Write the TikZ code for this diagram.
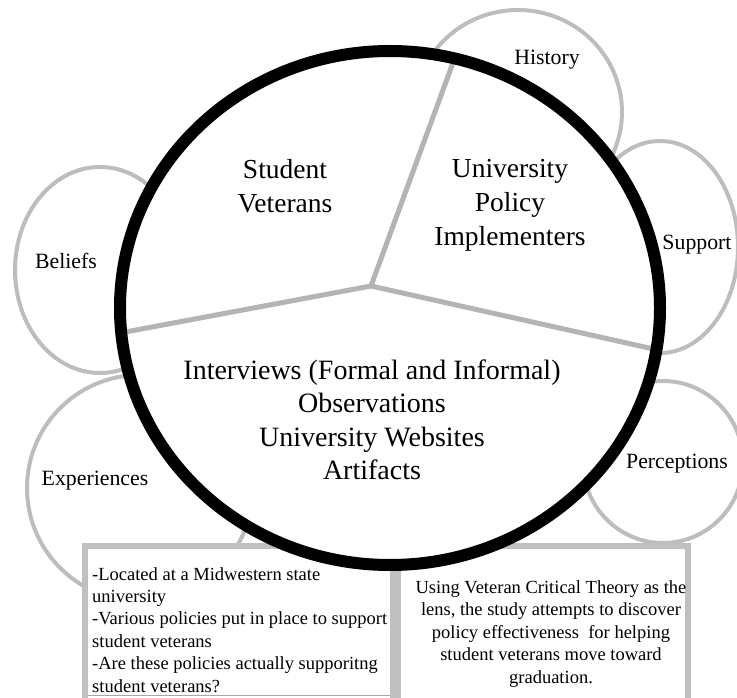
\documentclass[tikz,border=0pt]{standalone}
\usepackage{fontspec}
\setmainfont{Liberation Serif}
\definecolor{ringgray}{HTML}{BDBDBD}
\definecolor{linegray}{HTML}{B4B4B4}
\definecolor{boxgray}{HTML}{C0C0C0}
\definecolor{edgegray}{HTML}{A6A6A6}
\begin{document}
\begin{tikzpicture}[x=1pt,y=-1pt,
  bubble/.style={draw=ringgray, line width=4pt, fill=white},
  divider/.style={draw=linegray, line width=5pt},
  infobox/.style={draw=boxgray, line width=6pt, fill=white},
  small/.style={font=\fontsize{21.8}{26}\selectfont, inner sep=0pt, anchor=base},
  big/.style={font=\fontsize{27.5}{34.5}\selectfont, align=center, inner sep=0pt, anchor=base},
  boxtext/.style={font=\fontsize{18.5}{22.4}\selectfont, inner sep=0pt, anchor=base west, align=left},
  boxtextc/.style={font=\fontsize{18.5}{22.5}\selectfont, inner sep=0pt, anchor=base, align=center},
]
\useasboundingbox (0,0) rectangle (737,698);

% outer bubbles
\draw[bubble] (100,270) ellipse [x radius=85pt, y radius=103pt];
\draw[bubble] (140,488) ellipse [x radius=113pt, y radius=113pt];
\draw[bubble] (518,112) ellipse [x radius=104pt, y radius=102pt];
\draw[bubble] (660,247) ellipse [x radius=78pt, y radius=106pt];
\draw[bubble] (663,462) ellipse [x radius=80pt, y radius=81pt];

% information boxes
\draw[infobox] (85,546) rectangle (393,730);
\draw[infobox] (398,546) rectangle (688,730);
\draw[draw=edgegray, line width=1pt] (88,695) -- (390,695);

% central circle with its three sectors
\fill[white] (390,308) ellipse [x radius=270pt, y radius=257pt];
\coordinate (hub) at (371,286);
\coordinate (rimA) at (454,60);
\coordinate (rimB) at (658,350);
\coordinate (rimC) at (120,333);
\draw[divider] (hub) -- (rimA);
\draw[divider] (hub) -- (rimB);
\draw[divider] (hub) -- (rimC);
\draw[line width=12pt] (390,308) ellipse [x radius=270pt, y radius=257pt];

% labels (multi-line nodes sit on the baseline of their last line)
\node[small] (history) at (547,65) {History};
\node[small] (support) at (697,250) {Support};
\node[small] (beliefs) at (66,269) {Beliefs};
\node[small] (experiences) at (95,485) {Experiences};
\node[small] (perceptions) at (677,468) {Perceptions};

\node[big] (students) at (285,212.5) {Student\\Veterans};
\node[big] (implementers) at (510,246) {University\\Policy\\Implementers};
\node[big, font=\fontsize{28}{33.5}\selectfont] (sources) at (372,479.5)
  {Interviews (Formal and Informal)\\Observations\\University Websites\\Artifacts};

\node[boxtext] (context) at (92,692)
  {-Located at a Midwestern state\\university\\-Various policies put in place to support\\student veterans\\-Are these policies actually supporitng\\student veterans?};
\node[boxtextc] (purpose) at (551,683)
  {Using Veteran Critical Theory as the\\lens, the study attempts to discover\\policy effectiveness~ for helping\\student veterans move toward\\graduation.};
\end{tikzpicture}
\end{document}
